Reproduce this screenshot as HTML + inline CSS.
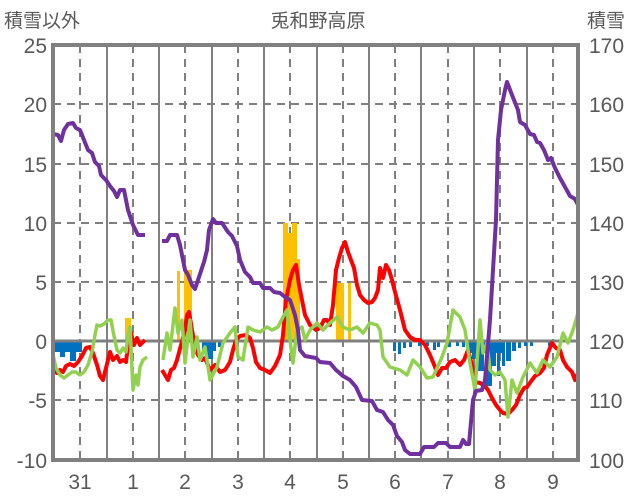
<!DOCTYPE html>
<html><head><meta charset="utf-8"><style>
body{margin:0;background:#fff}
svg{display:block}
text{font-family:"Liberation Sans","Noto Sans CJK JP",sans-serif;fill:#595959}
</style></head><body>
<svg width="636" height="501" viewBox="0 0 636 501" xmlns="http://www.w3.org/2000/svg">
<rect width="636" height="501" fill="#fff"/>
<g font-size="19">
<text x="4" y="27">積雪以外</text>
<text x="318" y="27" text-anchor="middle">兎和野高原</text>
<text x="587" y="27">積雪</text>
</g>
<g font-size="21" text-anchor="end">
<text x="47" y="53">25</text><text x="47" y="112">20</text><text x="47" y="172">15</text><text x="47" y="231">10</text><text x="47" y="290">5</text><text x="47" y="349">0</text><text x="47" y="408">-5</text><text x="47" y="468">-10</text>
</g>
<g font-size="21">
<text x="589" y="53">170</text><text x="589" y="112">160</text><text x="589" y="172">150</text><text x="589" y="231">140</text><text x="589" y="290">130</text><text x="589" y="349">120</text><text x="589" y="408">110</text><text x="589" y="468">100</text>
</g>
<g font-size="21" text-anchor="middle">
<text x="80" y="489">31</text><text x="133" y="489">1</text><text x="185" y="489">2</text><text x="238" y="489">3</text><text x="290" y="489">4</text><text x="343" y="489">5</text><text x="395" y="489">6</text><text x="448" y="489">7</text><text x="500" y="489">8</text><text x="553" y="489">9</text>
</g>
<g stroke="#808080" stroke-width="2" stroke-dasharray="8,6">
<line x1="53" x2="578" y1="104" y2="104"/><line x1="53" x2="578" y1="164" y2="164"/><line x1="53" x2="578" y1="223" y2="223"/><line x1="53" x2="578" y1="282" y2="282"/><line x1="53" x2="578" y1="400" y2="400"/>
<line x1="80" x2="80" y1="45" y2="460"/><line x1="133" x2="133" y1="45" y2="460"/><line x1="185" x2="185" y1="45" y2="460"/><line x1="238" x2="238" y1="45" y2="460"/><line x1="290" x2="290" y1="45" y2="460"/><line x1="343" x2="343" y1="45" y2="460"/><line x1="395" x2="395" y1="45" y2="460"/><line x1="448" x2="448" y1="45" y2="460"/><line x1="500" x2="500" y1="45" y2="460"/><line x1="553" x2="553" y1="45" y2="460"/>
</g>
<g stroke="#808080" stroke-width="2">
<line x1="107" x2="107" y1="45" y2="460"/><line x1="159" x2="159" y1="45" y2="460"/><line x1="212" x2="212" y1="45" y2="460"/><line x1="264" x2="264" y1="45" y2="460"/><line x1="317" x2="317" y1="45" y2="460"/><line x1="369" x2="369" y1="45" y2="460"/><line x1="421" x2="421" y1="45" y2="460"/><line x1="474" x2="474" y1="45" y2="460"/><line x1="527" x2="527" y1="45" y2="460"/>
</g>
<g fill="#FFC000">
<rect x="125" y="318" width="6" height="23"/>
<rect x="177" y="271" width="3" height="70"/>
<rect x="184" y="270" width="8" height="71"/>
<rect x="283" y="223" width="5" height="118"/><rect x="288" y="233" width="4" height="108"/><rect x="292" y="223" width="5" height="118"/><rect x="297" y="259" width="3" height="82"/>
<rect x="336" y="283" width="8" height="58"/><rect x="348" y="283" width="3" height="58"/>
</g>
<g fill="#0070C0">
<rect x="54" y="341" width="28" height="11"/><rect x="60" y="341" width="5" height="16"/><rect x="70" y="341" width="6" height="20"/>
<rect x="202" y="341" width="14" height="10"/><rect x="205" y="341" width="8" height="18"/><rect x="218" y="341" width="4" height="6"/>
<rect x="393" y="341" width="3" height="10"/><rect x="398" y="341" width="3" height="13"/><rect x="403" y="341" width="3" height="7"/><rect x="409" y="341" width="3" height="6"/><rect x="418" y="341" width="3" height="5"/><rect x="426" y="341" width="3" height="5"/><rect x="433" y="341" width="3" height="9"/><rect x="437" y="341" width="3" height="6"/><rect x="448" y="341" width="3" height="6"/><rect x="456" y="341" width="3" height="5"/><rect x="462" y="341" width="3" height="6"/>
<rect x="468" y="341" width="36" height="12"/><rect x="472" y="341" width="4" height="18"/><rect x="478" y="341" width="6" height="30"/><rect x="486" y="341" width="6" height="45"/><rect x="492" y="341" width="4" height="25"/><rect x="497" y="341" width="3" height="35"/><rect x="502" y="341" width="3" height="25"/><rect x="506" y="341" width="5" height="20"/><rect x="512" y="341" width="4" height="10"/><rect x="518" y="341" width="3" height="7"/><rect x="524" y="341" width="3" height="5"/><rect x="530" y="341" width="3" height="5"/><rect x="548" y="341" width="3" height="5"/>
</g>
<line x1="53" x2="578" y1="341" y2="341" stroke="#808080" stroke-width="3"/>
<g fill="none" stroke-width="4" stroke-linejoin="round">
<polyline stroke="#FF0000" points="53,370 57,373 60,370 63,372 66,366 70,364 74,366 78,362 82,356 86,348 90,347 93,353 97,365 100,376 103,380 106,368 110,352 113,360 117,356 120,362 123,360 126,362 128,345 131,333 134,345 137,338 140,345 145,340"/>
<polyline stroke="#FF0000" points="162,370 165,375 168,380 171,370 174,368 177,360 181,345 185,330 187,315 189,312 192,330 195,345 198,355 202,360 205,358 210,370 215,365 220,372 225,370 230,362 233,350 236,340 240,336 246,335 250,338 253,348 256,362 260,368 265,370 270,373 275,366 280,355 283,335 286,300 290,280 293,270 296,265 299,285 302,300 305,315 310,325 316,330 320,328 324,320 327,320 330,325 333,305 336,270 339,258 342,248 345,242 348,252 351,260 354,268 357,285 360,295 364,300 368,303 372,302 375,298 378,290 380,268 383,278 386,265 389,270 392,280 395,292 400,310 405,330 410,337 415,340 420,340 425,345 430,355 435,367 438,375 442,368 446,368 450,362 455,360 460,365 464,360 468,350 472,365 475,382 480,383 485,386 488,390 492,398 496,405 500,410 503,413 508,414 512,410 516,405 520,395 524,388 527,387 532,380 535,376 540,373 544,368 547,355 552,343 556,348 560,350 563,360 567,367 572,372 575,380 578,373"/>
<polyline stroke="#92D050" stroke-width="3.5" points="53,355 56,368 60,375 64,378 68,375 72,372 76,372 80,375 84,372 88,365 92,352 95,335 97,325 100,326 104,324 108,320 111,320 114,336 117,350 120,353 123,348 126,352 128,335 130,327 133,390 136,375 138,385 140,367 143,360 147,357"/>
<polyline stroke="#92D050" stroke-width="3.5" points="163,360 167,333 170,350 175,308 178,333 182,320 185,363 190,320 193,357 197,337 200,360 205,347 210,380 217,367 223,343 230,333 235,327 238,357 243,360 248,327 253,330 260,332 267,327 272,330 278,327 283,317 287,310 290,340 293,363 297,330 302,327 305,340 310,330 317,323 323,330 330,323 337,317 343,327 350,330 357,327 363,333 370,323 377,325 380,330 383,357 390,367 400,370 407,375 413,360 420,367 427,378 433,377 442,357 447,343 453,310 460,317 465,330 470,363 475,390 480,320 483,353 487,343 490,370 495,375 500,372 505,380 508,417 512,380 517,393 523,377 530,363 537,373 543,360 550,367 557,357 563,333 568,343 573,330 578,313"/>
<polyline stroke="#7030A0" points="53,134 58,135 61,141 64,130 68,124 73,123 76,128 80,130 84,140 88,150 92,153 95,162 99,166 101,175 106,180 110,186 114,191 117,197 120,190 124,190 128,210 133,225 138,235 145,235"/>
<polyline stroke="#7030A0" points="162,241 167,241 170,235 177,235 180,245 185,270 188,275 192,285 195,289 198,280 204,262 207,250 209,230 213,219 216,223 222,223 228,232 232,236 237,246 240,260 245,272 250,277 253,283 260,283 263,288 270,288 274,292 280,293 285,297 290,300 295,315 298,330 300,350 305,356 316,358 320,362 330,363 336,370 343,376 350,380 356,387 362,400 372,401 377,410 383,412 388,420 393,425 397,436 402,442 405,450 410,454 420,454 424,447 434,447 438,443 446,443 450,447 460,447 463,440 466,444 469,444 473,400 476,391 482,390 485,380 490,320 493,270 496,220 498,140 501,110 505,90 507,82 512,95 518,110 520,122 525,125 530,134 534,135 537,142 540,143 544,150 548,160 551,158 555,168 560,178 565,187 570,196 575,199 578,205"/>
</g>
<rect x="53" y="45" width="525" height="415" fill="none" stroke="#808080" stroke-width="4"/>
</svg>
</body></html>
